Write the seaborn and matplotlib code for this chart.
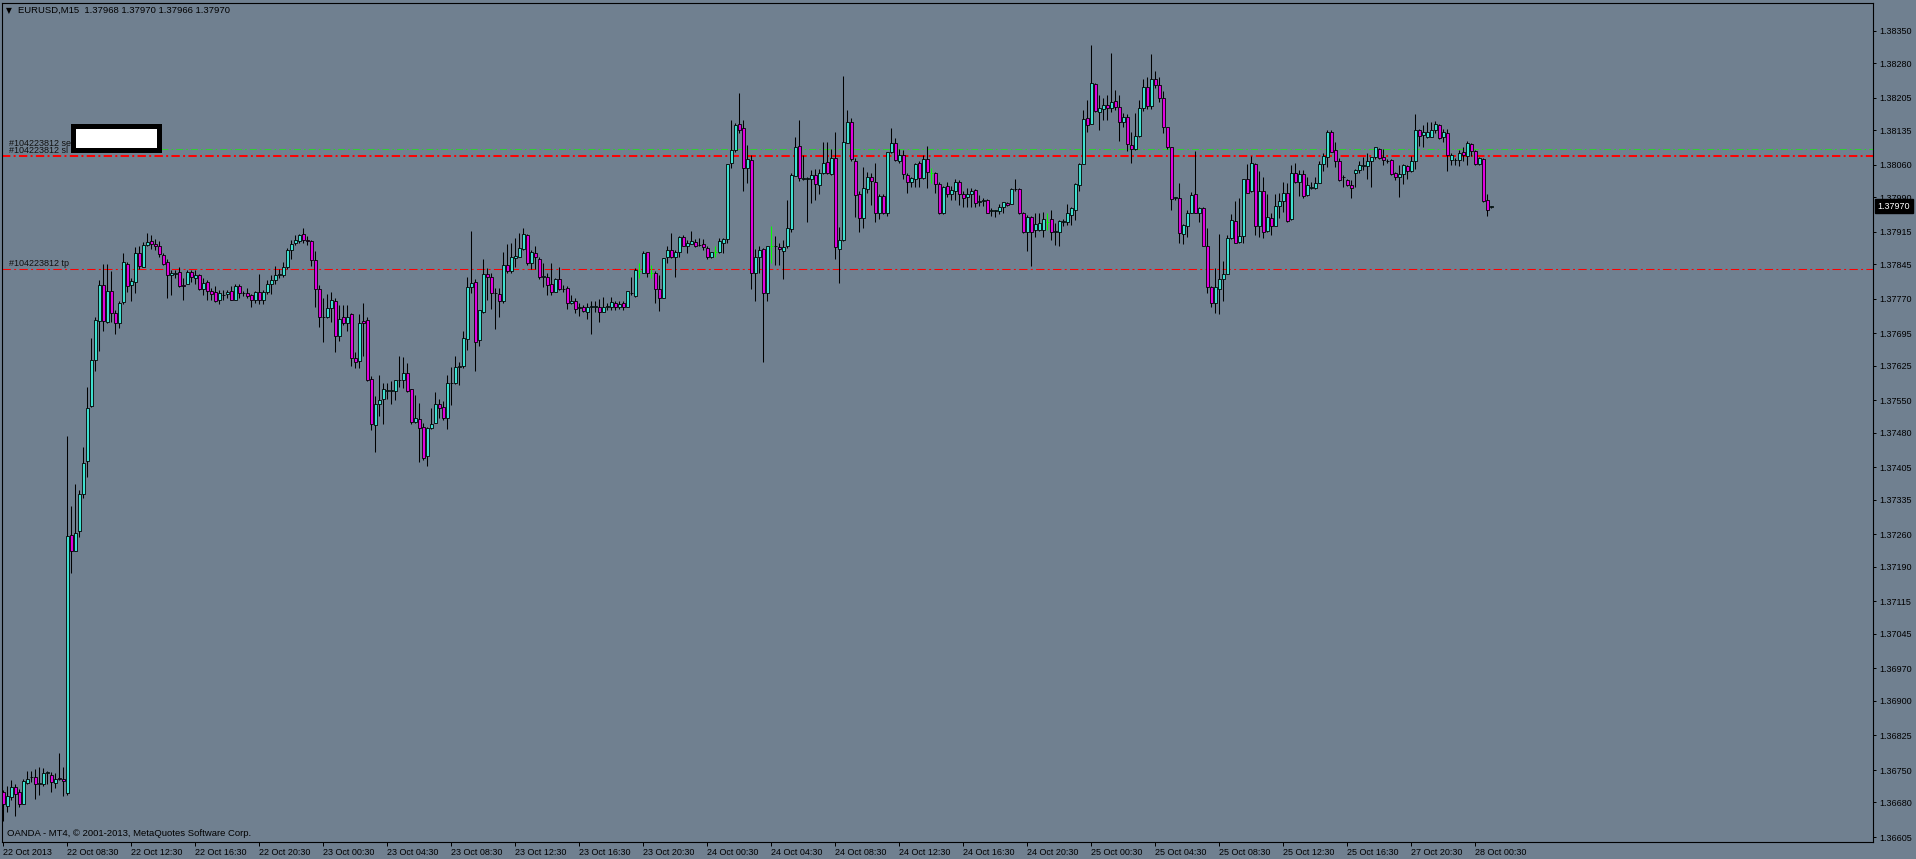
import numpy as np
import matplotlib
matplotlib.use("Agg")
import matplotlib.pyplot as plt
from matplotlib.patches import Rectangle
from matplotlib.transforms import blended_transform_factory
import seaborn as sns

# ---------------- data (prices in points above 1.36000) ----------------
BASE = 1.36000
OPEN = [
    703, 673, 692, 714, 703, 677, 723, 734, 736, 720,
    719, 744, 740, 723, 732, 730, 700, 1258, 1223, 1267,
    1348, 1418, 1538, 1637, 1721, 1799, 1720, 1786, 1740, 1717,
    1762, 1846, 1799, 1806, 1869, 1838, 1886, 1894, 1888, 1883,
    1865, 1849, 1821, 1824, 1828, 1799, 1801, 1827, 1814, 1821,
    1790, 1806, 1787, 1785, 1768, 1779, 1780, 1787, 1768, 1797,
    1782, 1782, 1777, 1768, 1785, 1768, 1785, 1801, 1811, 1821,
    1822, 1839, 1875, 1891, 1894, 1909, 1898, 1894, 1854, 1792,
    1730, 1731, 1749, 1766, 1690, 1730, 1717, 1736, 1641, 1635,
    1721, 1723, 1597, 1496, 1542, 1552, 1571, 1571, 1571, 1594,
    1594, 1609, 1574, 1504, 1509, 1492, 1430, 1490, 1500, 1542,
    1536, 1511, 1587, 1587, 1622, 1624, 1682, 1795, 1807, 1681,
    1742, 1823, 1816, 1782, 1780, 1764, 1842, 1829, 1859, 1861,
    1877, 1907, 1847, 1868, 1855, 1818, 1816, 1801, 1785, 1812,
    1791, 1793, 1760, 1765, 1750, 1753, 1742, 1753, 1753, 1751,
    1742, 1753, 1751, 1760, 1751, 1760, 1753, 1782, 1776, 1831,
    1826, 1870, 1826, 1825, 1790, 1771, 1860, 1875, 1861, 1870,
    1903, 1884, 1888, 1892, 1886, 1888, 1880, 1860, 1872, 1870,
    1891, 1899, 2063, 2092, 2148, 2139, 2052, 2070, 1825, 1860,
    1877, 1782, 1883, 1883, 1881, 1874, 1883, 1920, 2036, 2100,
    2030, 2030, 2030, 2037, 2016, 2041, 2065, 2040, 2074, 1878,
    1896, 2108, 2153, 2069, 1996, 1944, 2008, 2033, 2023, 1955,
    1992, 1955, 2088, 2108, 2069, 2082, 2038, 2023, 2029, 2063,
    2031, 2072, 2043, 2041, 2018, 1955, 2014, 1996, 2003, 2023,
    1996, 1991, 1996, 2005, 1980, 1982, 1984, 1960, 1960, 1960,
    1969, 1978, 1976, 2007, 2007, 1955, 1915, 1946, 1919, 1919,
    1919, 1937, 1942, 1915, 1914, 1937, 1937, 1951, 1963, 2016,
    2061, 2160, 2149, 2234, 2175, 2180, 2189, 2182, 2198, 2184,
    2152, 2163, 2103, 2093, 2122, 2182, 2228, 2187, 2245, 2232,
    2205, 2141, 2098, 1989, 1989, 1911, 1927, 1956, 1996, 1956,
    1966, 1885, 1795, 1761, 1792, 1812, 1823, 1902, 1938, 1893,
    1906, 2028, 2002, 2061, 1927, 2003, 1917, 1944, 1928, 1971,
    1982, 1998, 1942, 2043, 2022, 2040, 1994, 2009, 2009, 2021,
    2062, 2076, 2131, 2092, 2067, 2033, 2027, 2016, 2043, 2049,
    2058, 2057, 2067, 2076, 2095, 2076, 2068, 2070, 2041, 2033,
    2040, 2057, 2046, 2068, 2135, 2124, 2121, 2121, 2135, 2146,
    2119, 2128, 2070, 2070, 2070, 2087, 2079, 2105, 2090, 2062,
    2072, 1984, 1968,
]
HIGH = [
    707, 715, 728, 719, 709, 731, 748, 749, 753, 757,
    755, 748, 746, 743, 787, 757, 1473, 1321, 1368, 1357,
    1448, 1578, 1685, 1731, 1810, 1846, 1846, 1831, 1745, 1766,
    1869, 1849, 1814, 1881, 1883, 1892, 1913, 1907, 1900, 1894,
    1869, 1856, 1832, 1832, 1838, 1814, 1832, 1832, 1832, 1824,
    1814, 1810, 1793, 1797, 1789, 1789, 1789, 1797, 1801, 1801,
    1787, 1793, 1780, 1786, 1824, 1789, 1810, 1822, 1841, 1835,
    1849, 1880, 1898, 1907, 1911, 1922, 1905, 1897, 1873, 1799,
    1772, 1780, 1785, 1772, 1757, 1757, 1757, 1738, 1654, 1736,
    1761, 1731, 1603, 1560, 1605, 1588, 1587, 1592, 1595, 1647,
    1643, 1630, 1575, 1562, 1544, 1500, 1493, 1533, 1569, 1554,
    1549, 1605, 1623, 1645, 1634, 1701, 1818, 1917, 1812, 1746,
    1855, 1836, 1825, 1793, 1793, 1870, 1888, 1890, 1901, 1912,
    1922, 1910, 1875, 1884, 1861, 1847, 1826, 1848, 1814, 1838,
    1800, 1797, 1778, 1771, 1761, 1756, 1761, 1764, 1766, 1769,
    1773, 1761, 1774, 1766, 1764, 1766, 1787, 1818, 1836, 1848,
    1873, 1872, 1843, 1829, 1821, 1857, 1884, 1912, 1875, 1906,
    1908, 1897, 1917, 1899, 1902, 1899, 1883, 1872, 1883, 1901,
    1901, 2061, 2157, 2150, 2216, 2157, 2103, 2081, 1877, 1884,
    1879, 1883, 1927, 1906, 1890, 1897, 1984, 2041, 2121, 2157,
    2081, 2034, 2048, 2050, 2050, 2110, 2110, 2095, 2131, 1926,
    2251, 2178, 2160, 2074, 2002, 2056, 2045, 2043, 2063, 1996,
    1996, 2088, 2139, 2117, 2095, 2092, 2041, 2034, 2064, 2067,
    2081, 2100, 2052, 2045, 2023, 2013, 2023, 2014, 2028, 2027,
    2002, 2009, 2009, 2007, 1994, 1987, 1985, 1967, 1963, 1976,
    1980, 1980, 2009, 2028, 2009, 1958, 1951, 1949, 1956, 1956,
    1958, 1955, 1962, 1933, 1940, 1942, 1976, 1969, 2020, 2063,
    2178, 2199, 2319, 2236, 2211, 2204, 2211, 2301, 2222, 2211,
    2171, 2170, 2131, 2171, 2200, 2245, 2250, 2300, 2262, 2250,
    2220, 2141, 2099, 1991, 2020, 1932, 1962, 2000, 2090, 1969,
    1969, 1924, 1798, 1836, 1910, 1852, 1908, 1953, 1981, 1987,
    2030, 2061, 2079, 2063, 2047, 2033, 1997, 1955, 1997, 1998,
    2023, 2020, 2059, 2064, 2049, 2049, 2034, 2023, 2033, 2067,
    2085, 2135, 2135, 2110, 2074, 2038, 2030, 2027, 2050, 2067,
    2077, 2085, 2077, 2099, 2097, 2095, 2072, 2072, 2045, 2059,
    2062, 2059, 2079, 2170, 2137, 2146, 2153, 2153, 2155, 2148,
    2137, 2137, 2085, 2074, 2092, 2099, 2112, 2108, 2092, 2077,
    2074, 1996, 1970,
]
LOW = [
    639, 660, 686, 650, 669, 676, 719, 724, 687, 696,
    715, 719, 703, 711, 728, 694, 696, 1176, 1223, 1254,
    1338, 1385, 1536, 1614, 1656, 1700, 1717, 1720, 1694, 1706,
    1759, 1784, 1766, 1783, 1835, 1838, 1883, 1877, 1875, 1860,
    1843, 1772, 1779, 1814, 1795, 1768, 1801, 1806, 1801, 1789,
    1779, 1768, 1768, 1762, 1759, 1768, 1772, 1767, 1767, 1772,
    1776, 1772, 1753, 1760, 1759, 1759, 1780, 1780, 1801, 1814,
    1816, 1835, 1856, 1886, 1891, 1891, 1886, 1841, 1751, 1709,
    1677, 1728, 1720, 1654, 1679, 1713, 1700, 1625, 1620, 1620,
    1646, 1591, 1486, 1439, 1516, 1499, 1552, 1542, 1551, 1578,
    1576, 1569, 1499, 1500, 1417, 1421, 1407, 1489, 1500, 1511,
    1508, 1487, 1540, 1585, 1583, 1619, 1659, 1782, 1614, 1668,
    1740, 1767, 1747, 1705, 1731, 1761, 1826, 1825, 1839, 1861,
    1875, 1843, 1834, 1834, 1813, 1796, 1778, 1777, 1784, 1789,
    1784, 1748, 1758, 1740, 1733, 1742, 1726, 1694, 1742, 1720,
    1741, 1746, 1746, 1746, 1747, 1746, 1751, 1778, 1774, 1814,
    1825, 1818, 1814, 1761, 1744, 1771, 1847, 1859, 1818, 1860,
    1883, 1868, 1888, 1881, 1883, 1875, 1855, 1857, 1861, 1868,
    1868, 1891, 2052, 2088, 2128, 2002, 2020, 1790, 1764, 1826,
    1633, 1766, 1847, 1843, 1843, 1812, 1880, 1915, 2036, 2025,
    2027, 1935, 1978, 1984, 1997, 2040, 2040, 2038, 1855, 1805,
    1895, 2106, 2067, 1946, 1915, 1922, 1999, 1973, 1935, 1942,
    1953, 1950, 2086, 2067, 2063, 2028, 1999, 2012, 2012, 2012,
    2028, 2009, 2020, 1998, 1953, 1953, 1991, 1984, 1984, 1973,
    1969, 1969, 1968, 1969, 1971, 1971, 1955, 1948, 1946, 1953,
    1955, 1971, 1975, 2003, 1953, 1913, 1874, 1841, 1903, 1917,
    1904, 1919, 1898, 1886, 1884, 1927, 1930, 1930, 1940, 2004,
    2061, 2131, 2148, 2175, 2134, 2157, 2157, 2175, 2178, 2112,
    2142, 2090, 2063, 2092, 2120, 2176, 2180, 2180, 2225, 2195,
    2128, 2095, 1962, 1984, 1890, 1888, 1903, 1955, 1955, 1935,
    1883, 1782, 1753, 1738, 1737, 1764, 1823, 1900, 1890, 1891,
    1890, 1998, 2001, 1908, 1904, 1901, 1915, 1908, 1927, 1944,
    1958, 1937, 1940, 2020, 1992, 1987, 1992, 2007, 2007, 2020,
    2047, 2054, 2087, 2056, 2025, 2011, 2014, 1989, 2012, 2041,
    2049, 2030, 2011, 2072, 2072, 2059, 2063, 2038, 2027, 1991,
    2018, 2028, 2045, 2050, 2100, 2099, 2117, 2119, 2129, 2115,
    2110, 2047, 2059, 2059, 2058, 2069, 2059, 2079, 2059, 2059,
    1980, 1949, 1966,
]
CLOSE = [
    677, 694, 713, 699, 677, 726, 731, 735, 719, 721,
    743, 745, 724, 731, 731, 726, 1257, 1225, 1264, 1348,
    1415, 1534, 1637, 1723, 1799, 1721, 1786, 1740, 1717, 1761,
    1849, 1797, 1808, 1869, 1841, 1886, 1892, 1888, 1883, 1866,
    1846, 1822, 1825, 1825, 1797, 1798, 1827, 1817, 1821, 1792,
    1804, 1786, 1780, 1764, 1783, 1778, 1785, 1768, 1797, 1783,
    1783, 1775, 1768, 1785, 1768, 1785, 1801, 1811, 1822, 1824,
    1839, 1876, 1888, 1896, 1907, 1897, 1894, 1854, 1790, 1730,
    1731, 1749, 1768, 1690, 1727, 1717, 1731, 1641, 1633, 1717,
    1717, 1595, 1498, 1543, 1551, 1574, 1572, 1572, 1593, 1595,
    1609, 1571, 1504, 1511, 1490, 1426, 1490, 1498, 1542, 1533,
    1511, 1587, 1588, 1622, 1624, 1684, 1795, 1803, 1677, 1746,
    1823, 1816, 1782, 1783, 1764, 1844, 1829, 1861, 1862, 1879,
    1910, 1848, 1871, 1860, 1816, 1819, 1800, 1784, 1812, 1791,
    1792, 1760, 1765, 1747, 1751, 1744, 1751, 1754, 1754, 1742,
    1751, 1754, 1762, 1751, 1759, 1753, 1787, 1783, 1832, 1831,
    1869, 1826, 1826, 1790, 1771, 1857, 1875, 1860, 1872, 1904,
    1885, 1890, 1894, 1883, 1887, 1881, 1861, 1870, 1872, 1894,
    1899, 2061, 2091, 2145, 2135, 2052, 2072, 1825, 1861, 1875,
    1782, 1883, 1883, 1884, 1877, 1881, 1922, 2038, 2098, 2031,
    2031, 2031, 2037, 2018, 2041, 2063, 2041, 2074, 1881, 1896,
    2110, 2153, 2072, 1994, 1944, 2010, 2034, 2025, 1955, 1992,
    1955, 2088, 2108, 2070, 2082, 2039, 2023, 2031, 2062, 2031,
    2072, 2045, 2043, 2018, 1955, 2011, 1996, 2005, 2022, 1996,
    1989, 1997, 2003, 1978, 1981, 1983, 1956, 1961, 1961, 1969,
    1979, 1973, 2007, 2008, 1955, 1915, 1946, 1915, 1932, 1933,
    1942, 1937, 1914, 1916, 1938, 1938, 1955, 1966, 2018, 2061,
    2158, 2146, 2236, 2177, 2182, 2189, 2182, 2196, 2184, 2152,
    2163, 2104, 2095, 2122, 2182, 2228, 2187, 2245, 2232, 2205,
    2142, 2099, 1985, 1990, 1913, 1930, 1955, 1994, 1956, 1966,
    1885, 1796, 1760, 1795, 1812, 1823, 1901, 1940, 1891, 1906,
    2028, 1999, 2063, 1927, 2003, 1915, 1946, 1928, 1971, 1982,
    1999, 1939, 2043, 2022, 2040, 1993, 2015, 2011, 2021, 2062,
    2079, 2130, 2088, 2067, 2027, 2034, 2016, 2009, 2049, 2059,
    2059, 2067, 2076, 2098, 2074, 2070, 2069, 2040, 2033, 2040,
    2059, 2047, 2068, 2135, 2123, 2131, 2131, 2134, 2148, 2117,
    2130, 2081, 2081, 2071, 2085, 2080, 2108, 2090, 2062, 2075,
    1981, 1963, 1970,
]

X_LABELS = ["22 Oct 2013", "22 Oct 08:30", "22 Oct 12:30", "22 Oct 16:30", "22 Oct 20:30",
            "23 Oct 00:30", "23 Oct 04:30", "23 Oct 08:30", "23 Oct 12:30", "23 Oct 16:30",
            "23 Oct 20:30", "24 Oct 00:30", "24 Oct 04:30", "24 Oct 08:30", "24 Oct 12:30",
            "24 Oct 16:30", "24 Oct 20:30", "25 Oct 00:30", "25 Oct 04:30", "25 Oct 08:30",
            "25 Oct 12:30", "25 Oct 16:30", "27 Oct 20:30", "28 Oct 00:30"]
X_LABEL_BARS = [16 * k for k in range(len(X_LABELS))]
Y_LABELS = ["1.38350", "1.38280", "1.38205", "1.38135", "1.38060", "1.37990", "1.37915",
            "1.37845", "1.37770", "1.37695", "1.37625", "1.37550", "1.37480", "1.37405",
            "1.37335", "1.37260", "1.37190", "1.37115", "1.37045", "1.36970", "1.36900",
            "1.36825", "1.36750", "1.36680", "1.36605"]

ORDER_PRICE = 1.38093
STOP_LOSS = 1.38078
TAKE_PROFIT = 1.37834
LAST_PRICE = 1.37970
HEADER = "EURUSD,M15  1.37968 1.37970 1.37966 1.37970"
FOOTER = "OANDA - MT4, \u00a9 2001-2013, MetaQuotes Software Corp."

# ---------------- style ----------------
W, H = 1916, 859
BG = "#708090"
BULL = "#40E0D0"
BEAR = "#E000E0"
DOJI = "#00FF00"

sns.set_style("white", rc={"axes.facecolor": BG, "figure.facecolor": BG,
                           "axes.edgecolor": "black", "axes.grid": False})
plt.rcParams["font.family"] = ["Liberation Sans", "DejaVu Sans"]
plt.rcParams["lines.scale_dashes"] = False

fig = plt.figure(figsize=(W / 100, H / 100), dpi=100)


def fx(px):
    return px / W


def fy(py):
    return 1 - py / H


ax = fig.add_axes([fx(2), fy(842), fx(1873) - fx(2), fy(3) - fy(842)])
ax.set_facecolor(BG)

o_i = np.array(OPEN)
c_i = np.array(CLOSE)
o = BASE + o_i / 1e5
c = BASE + c_i / 1e5
hi = BASE + np.array(HIGH) / 1e5
lo = BASE + np.array(LOW) / 1e5
x = np.arange(len(o))

doji = o_i == c_i
up = c_i > o_i
dn = c_i < o_i
nd = ~doji

ax.vlines(x[nd], lo[nd], hi[nd], colors="black", linewidth=0.75, zorder=2)
ax.bar(x[up], (c - o)[up], bottom=o[up], width=0.68, color=BULL,
       edgecolor="black", linewidth=0.6, zorder=3)
ax.bar(x[dn], (o - c)[dn], bottom=c[dn], width=0.68, color=BEAR,
       edgecolor="black", linewidth=0.6, zorder=3)
ax.vlines(x[doji], lo[doji], hi[doji], colors=DOJI, linewidth=0.75, zorder=3)
ax.hlines(o[doji], x[doji] - 0.4, x[doji] + 0.4, colors=DOJI, linewidth=0.75, zorder=3)

# order lines
ax.axhline(ORDER_PRICE, xmin=(161 - 2) / 1871, color="#33CC33", linewidth=0.75,
           dashes=(5.0, 2.2, 1.2, 2.2), zorder=1.5)
ax.axhline(STOP_LOSS, color="#FF0000", linewidth=1.4,
           dashes=(6.0, 2.4, 1.4, 2.4), zorder=1.5)
ax.axhline(TAKE_PROFIT, color="#FF0000", linewidth=0.75,
           dashes=(6.0, 2.4, 1.4, 2.4), zorder=1.5)

ax.set_xlim(-0.325, 467.4)
ax.set_ylim(1.365943, 1.384099)

ax.set_xticks(X_LABEL_BARS)
ax.set_xticklabels(X_LABELS, ha="left")
ax.tick_params(axis="x", direction="out", length=2.9, width=0.72, pad=1.6,
               labelsize=6.5, colors="black", bottom=True)
ax.yaxis.tick_right()
ax.set_yticks([float(s) for s in Y_LABELS])
ax.set_yticklabels(Y_LABELS)
ax.tick_params(axis="y", direction="out", length=2.2, width=0.72, pad=2.2,
               labelsize=6.5, colors="black", right=True, left=False)
for sp in ax.spines.values():
    sp.set_visible(True)
    sp.set_color("black")
    sp.set_linewidth(0.8)

# last price label on the scale
tr = blended_transform_factory(ax.transAxes, ax.transData)
ax.text(1 + 4.5 / 1871, LAST_PRICE, "1.37970", transform=tr, color="white",
        fontsize=6.5, va="center", ha="left", zorder=5, clip_on=False,
        bbox=dict(boxstyle="square,pad=0.3", facecolor="black", edgecolor="black"))

# order labels
fig.text(fx(9), fy(143), "#104223812 sell", fontsize=6.5, va="center", ha="left", color="#111111")
fig.text(fx(9), fy(150.5), "#104223812 sl", fontsize=6.5, va="center", ha="left", color="#111111")
fig.text(fx(9), fy(264), "#104223812 tp", fontsize=6.5, va="center", ha="left", color="#111111")

# redaction box
fig.add_artist(Rectangle((fx(72.5), fy(149.8)), fx(158.5) - fx(72.5), fy(125.8) - fy(149.8),
                         transform=fig.transFigure, facecolor="white", edgecolor="black",
                         linewidth=3.6, zorder=10))

# header & footer
fig.text(fx(6), fy(10.7), "\u25bc", fontsize=5.5, va="center", ha="left",
         family="DejaVu Sans", color="black")
fig.text(fx(18), fy(10.7), HEADER, fontsize=6.8, va="center", ha="left", color="black")
fig.text(fx(7), fy(834), FOOTER, fontsize=6.8, va="center", ha="left", color="black")

fig.savefig("out.png", dpi=100, facecolor=BG)
